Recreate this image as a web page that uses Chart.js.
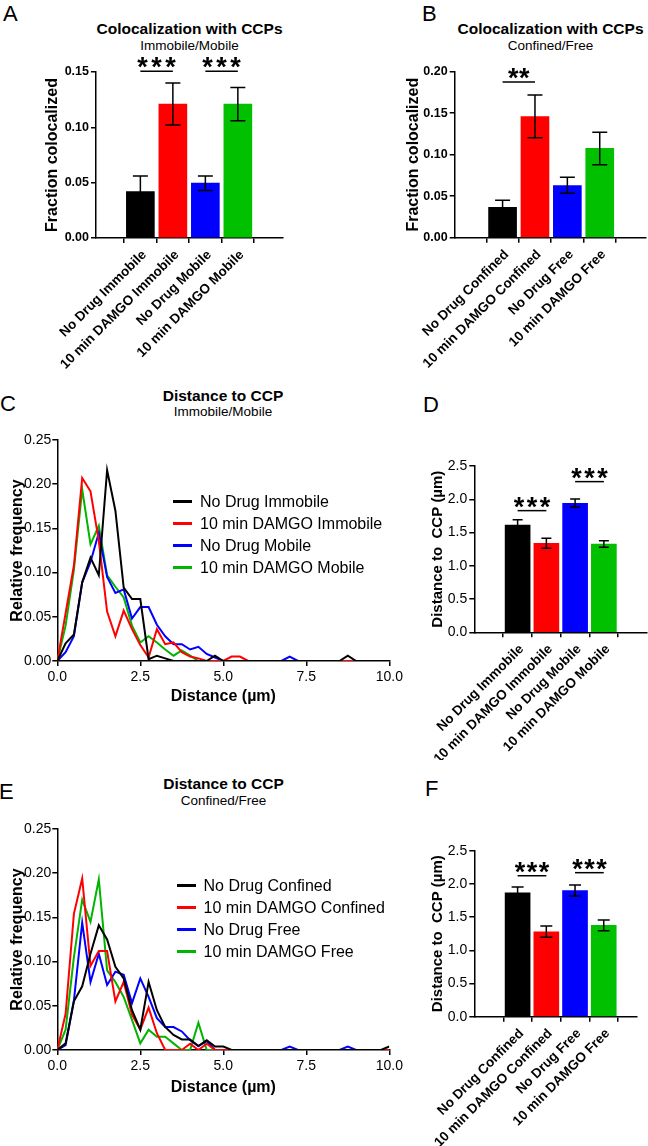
<!DOCTYPE html>
<html>
<head>
<meta charset="utf-8">
<script src="https://cdn.jsdelivr.net/npm/chart.js@4.4.1/dist/chart.umd.min.js"></script>
<style>
  body { margin: 0; background: #fff; width: 648px; height: 1146px; position: relative; overflow: hidden;
         font-family: Arial, "Liberation Sans", Helvetica, sans-serif; color: #000; }
  canvas { position: absolute; }
  .letter { position: absolute; font-size: 22px; line-height: 22px; }
  .ttl { position: absolute; transform: translate(-50%, -50%); white-space: nowrap; font-weight: bold; font-size: 15.5px; line-height: 15.5px; }
  .sub { position: absolute; transform: translate(-50%, -50%); white-space: nowrap; font-size: 13.5px; line-height: 13.5px; }
  .legend { position: absolute; }
  .legend div { position: absolute; left: 0; height: 22px; display: flex; align-items: center; white-space: nowrap; font-size: 16px; }
  .legend span.swatch { display: inline-block; width: 19px; height: 3px; margin-right: 8px; }
</style>
</head>
<body>
<div class="letter" style="left:3px;top:3px">A</div>
<div class="letter" style="left:422px;top:3px">B</div>
<div class="letter" style="left:0px;top:393px">C</div>
<div class="letter" style="left:423px;top:394px">D</div>
<div class="letter" style="left:-1px;top:781px">E</div>
<div class="letter" style="left:425px;top:778px">F</div>

<div class="ttl" style="left:189.5px;top:29px">Colocalization with CCPs</div>
<div class="sub" style="left:189.5px;top:45.5px">Immobile/Mobile</div>
<div class="ttl" style="left:550.5px;top:29px">Colocalization with CCPs</div>
<div class="sub" style="left:550.5px;top:45.5px">Confined/Free</div>
<div class="ttl" style="left:223px;top:396px">Distance to CCP</div>
<div class="sub" style="left:223px;top:412px">Immobile/Mobile</div>
<div class="ttl" style="left:223.5px;top:784px">Distance to CCP</div>
<div class="sub" style="left:223.5px;top:801px">Confined/Free</div>

<canvas id="chartA" width="324" height="372" style="left:0px;top:0px"></canvas>
<canvas id="chartB" width="324" height="372" style="left:324px;top:0px"></canvas>
<canvas id="chartC" width="420" height="370" style="left:0px;top:370px"></canvas>
<canvas id="chartD" width="268" height="390" style="left:380px;top:370px"></canvas>
<canvas id="chartE" width="420" height="406" style="left:0px;top:740px"></canvas>
<canvas id="chartF" width="268" height="406" style="left:380px;top:740px"></canvas>

<div class="legend" id="legendC" style="left:173px;top:490.5px"></div>
<div class="legend" id="legendE" style="left:176.5px;top:874.5px"></div>

<script>
const barColors = ['#000000', '#ff0000', '#0000ff', '#00c000'];
const lineColors = ['#000000', '#ff0000', '#0000ff', '#00b400'];

const immobileMobileLabels = ['No Drug Immobile', '10 min DAMGO Immobile', 'No Drug Mobile', '10 min DAMGO Mobile'];
const confinedFreeLabels = ['No Drug Confined', '10 min DAMGO Confined', 'No Drug Free', '10 min DAMGO Free'];

// A: colocalization, immobile/mobile
const colocImmMean = [0.042, 0.121, 0.0497, 0.121];
const colocImmLow = [0.028, 0.102, 0.043, 0.106];
const colocImmHigh = [0.056, 0.140, 0.056, 0.136];

// B: colocalization, confined/free
const colocConfMean = [0.0366, 0.1458, 0.0627, 0.1077];
const colocConfLow = [0.028, 0.1205, 0.0535, 0.088];
const colocConfHigh = [0.045, 0.172, 0.0727, 0.127];

// D: distance to CCP, immobile/mobile
const distImmMean = [1.613, 1.338, 1.939, 1.328];
const distImmLow = [1.533, 1.263, 1.884, 1.278];
const distImmHigh = [1.693, 1.413, 2.004, 1.378];

// F: distance to CCP, confined/free
const distConfMean = [1.867, 1.280, 1.898, 1.376];
const distConfLow = [1.782, 1.195, 1.817, 1.295];
const distConfHigh = [1.953, 1.365, 1.983, 1.456];

// histogram bins (um)
const distanceBins = [0, 0.25, 0.5, 0.75, 1.0, 1.25, 1.5, 1.75, 2.0, 2.25, 2.5, 2.75, 3.0, 3.25, 3.5, 3.75,
  4.0, 4.25, 4.5, 4.75, 5.0, 5.25, 5.5, 5.75, 6.0, 6.25, 6.5, 6.75, 7.0, 7.25, 7.5, 7.75,
  8.0, 8.25, 8.5, 8.75, 9.0, 9.25, 9.5, 9.75, 10.0];

// C: relative frequency, immobile/mobile
const freqNoDrugImmobile = [0, 0.02, 0.03, 0.089, 0.117, 0.097, 0.216, 0.170, 0.083, 0.070, 0.070, 0.002, 0.006, 0.003, 0, 0,
  0, 0, 0, 0.006, 0, 0, 0, 0, 0, 0, 0, 0, 0, 0, 0, 0,
  0, 0, 0, 0.006, 0, 0, 0, 0, 0];
const freqDamgoImmobile = [0, 0.054, 0.108, 0.207, 0.192, 0.136, 0.056, 0.028, 0.057, 0.036, 0.018, 0.004, 0.036, 0.019, 0.021, 0.01,
  0.005, 0.003, 0, 0, 0, 0.005, 0.005, 0, 0, 0, 0, 0, 0, 0, 0, 0,
  0, 0, 0, 0, 0, 0, 0, 0, 0];
const freqNoDrugMobile = [0, 0.01, 0.028, 0.089, 0.112, 0.145, 0.095, 0.077, 0.081, 0.048, 0.061, 0.061, 0.041, 0.028, 0.019, 0.019,
  0.013, 0.016, 0.008, 0.004, 0, 0, 0, 0, 0, 0, 0, 0, 0.005, 0, 0, 0,
  0, 0, 0, 0, 0, 0, 0, 0, 0];
const freqDamgoMobile = [0, 0.04, 0.103, 0.194, 0.132, 0.153, 0.097, 0.084, 0.072, 0.040, 0.021, 0.028, 0.021, 0.013, 0.006, 0.012,
  0.006, 0, 0, 0, 0, 0, 0, 0, 0, 0, 0, 0, 0, 0, 0, 0,
  0, 0, 0, 0, 0, 0, 0, 0, 0];

// E: relative frequency, confined/free
const freqNoDrugConfined = [0, 0.0075, 0.055, 0.072, 0.109, 0.141, 0.125, 0.094, 0.081, 0.045, 0.023, 0.077, 0.045, 0.026, 0.017, 0.012,
  0.012, 0.0045, 0.011, 0.004, 0.004, 0, 0, 0, 0, 0, 0, 0, 0, 0, 0, 0,
  0, 0, 0, 0, 0, 0, 0, 0, 0.004];
const freqDamgoConfined = [0, 0.041, 0.154, 0.194, 0.095, 0.112, 0.112, 0.055, 0.077, 0.040, 0.023, 0.048, 0.019, 0, 0, 0,
  0.007, 0, 0.007, 0, 0, 0, 0, 0, 0, 0, 0, 0, 0, 0, 0, 0,
  0, 0, 0, 0, 0, 0, 0, 0, 0];
const freqNoDrugFree = [0, 0.0056, 0.056, 0.144, 0.077, 0.109, 0.0735, 0.0886, 0.085, 0.053, 0.081, 0.060, 0.036, 0.026, 0.026, 0.021,
  0.011, 0.0045, 0.010, 0, 0, 0, 0, 0, 0, 0, 0, 0, 0.004, 0, 0, 0,
  0, 0, 0, 0.004, 0, 0, 0, 0, 0];
const freqDamgoFree = [0, 0.023, 0.105, 0.170, 0.145, 0.193, 0.090, 0.077, 0.060, 0.034, 0.0075, 0.023, 0.015, 0.015, 0.0075, 0,
  0, 0.031, 0, 0, 0, 0, 0, 0, 0, 0, 0, 0, 0, 0, 0, 0,
  0, 0, 0, 0, 0, 0, 0, 0, 0];

const FONT = 'Arial, "Liberation Sans", Helvetica, sans-serif';
Chart.defaults.font.family = FONT;
Chart.defaults.color = '#000';

const gridStyle = { drawOnChartArea: false, color: '#000', lineWidth: 1.5, tickLength: 5 };
const borderStyle = { color: '#000', width: 1.5 };

function errorBars(lows, highs, cap) {
  return {
    id: 'errorBars',
    afterDatasetsDraw(chart) {
      const { ctx } = chart;
      const { x, y } = chart.scales;
      ctx.save();
      ctx.strokeStyle = '#000';
      ctx.lineWidth = 1.5;
      lows.forEach((low, i) => {
        const px = x.getPixelForValue(i);
        const top = y.getPixelForValue(highs[i]);
        const bottom = y.getPixelForValue(low);
        ctx.beginPath();
        ctx.moveTo(px, top);
        ctx.lineTo(px, bottom);
        ctx.moveTo(px - cap / 2, top);
        ctx.lineTo(px + cap / 2, top);
        ctx.moveTo(px - cap / 2, bottom);
        ctx.lineTo(px + cap / 2, bottom);
        ctx.stroke();
      });
      ctx.restore();
    },
  };
}

function sigBrackets(pairs, levels, marks, starGap) {
  return {
    id: 'sigBrackets',
    afterDraw(chart) {
      const { ctx } = chart;
      const { x, y } = chart.scales;
      ctx.save();
      ctx.strokeStyle = '#000';
      ctx.fillStyle = '#000';
      ctx.lineWidth = 1.5;
      ctx.font = 'bold 27px ' + FONT;
      ctx.textAlign = 'center';
      ctx.textBaseline = 'alphabetic';
      pairs.forEach((pair, k) => {
        const x1 = x.getPixelForValue(pair[0]);
        const x2 = x.getPixelForValue(pair[1]);
        const py = y.getPixelForValue(levels[k]);
        ctx.beginPath();
        ctx.moveTo(x1, py);
        ctx.lineTo(x2, py);
        ctx.stroke();
        const n = marks[k].length;
        const mid = (x1 + x2) / 2;
        for (let s = 0; s < n; s++) {
          ctx.fillText('*', mid + (s - (n - 1) / 2) * starGap, py + 5);
        }
      });
      ctx.restore();
    },
  };
}

function makeBarChart(id, o) {
  return new Chart(document.getElementById(id), {
    type: 'bar',
    data: {
      datasets: [{
        data: o.means.map((v, i) => ({ x: i, y: v })),
        backgroundColor: barColors,
        borderWidth: 0,
        barThickness: o.barWidth,
      }],
    },
    options: {
      responsive: false,
      animation: false,
      devicePixelRatio: 1,
      layout: { padding: o.padding },
      plugins: { legend: { display: false }, tooltip: { enabled: false } },
      scales: {
        x: {
          type: 'linear',
          min: o.xMin,
          max: o.xMax,
          afterBuildTicks: (scale) => { scale.ticks = o.labels.map((_, i) => ({ value: i })); },
          afterFit: (scale) => { scale.height = o.xHeight; },
          ticks: {
            autoSkip: false,
            minRotation: 45,
            maxRotation: 45,
            padding: 4,
            labelOffset: 4,
            font: { size: 13.5, weight: 'bold' },
            callback: (v) => o.labels[v],
          },
          grid: gridStyle,
          border: borderStyle,
        },
        y: {
          min: 0,
          max: o.yMax,
          afterFit: (scale) => { scale.width = o.yWidth; },
          ticks: {
            stepSize: o.yStep,
            padding: 2,
            font: o.tickFont,
            callback: (v) => v.toFixed(o.digits),
          },
          title: {
            display: true,
            text: o.yTitle,
            font: { size: o.yTitleSize, weight: 'bold' },
            padding: { top: o.yTitlePad, bottom: 0 },
          },
          grid: gridStyle,
          border: borderStyle,
        },
      },
    },
    plugins: [errorBars(o.lows, o.highs, o.cap), sigBrackets(o.sigPairs, o.sigLevels, o.sigMarks, o.starGap)],
  });
}

function makeLineChart(id, o) {
  return new Chart(document.getElementById(id), {
    type: 'line',
    data: {
      datasets: o.series.map((s, k) => ({
        label: o.names[k],
        data: distanceBins.map((d, i) => ({ x: d, y: s[i] })),
        borderColor: lineColors[k],
        borderWidth: 2,
        pointRadius: 0,
        tension: 0,
        fill: false,
      })),
    },
    options: {
      responsive: false,
      animation: false,
      devicePixelRatio: 1,
      layout: { padding: o.padding },
      plugins: { legend: { display: false }, tooltip: { enabled: false } },
      scales: {
        x: {
          type: 'linear',
          min: 0,
          max: 10,
          afterFit: (scale) => { scale.height = o.xHeight; },
          ticks: { stepSize: 2.5, padding: 3, font: { size: 14 }, callback: (v) => v.toFixed(1) },
          title: {
            display: true,
            text: 'Distance (\u00b5m)',
            font: { size: 16, weight: 'bold' },
            padding: { top: 0, bottom: o.xTitlePad },
          },
          grid: gridStyle,
          border: borderStyle,
        },
        y: {
          min: 0,
          max: 0.25,
          afterFit: (scale) => { scale.width = 57.3; },
          ticks: { stepSize: 0.05, padding: 1, font: { size: 14 }, callback: (v) => v.toFixed(2) },
          title: {
            display: true,
            text: 'Relative frequency',
            font: { size: 16, weight: 'bold' },
            padding: { top: 8.4, bottom: 0 },
          },
          grid: gridStyle,
          border: borderStyle,
        },
      },
    },
  });
}

function buildLegend(id, names, rowGap) {
  const box = document.getElementById(id);
  names.forEach((name, k) => {
    const row = document.createElement('div');
    row.style.top = (k * rowGap) + 'px';
    const sw = document.createElement('span');
    sw.className = 'swatch';
    sw.style.background = lineColors[k];
    const txt = document.createElement('span');
    txt.textContent = name;
    row.append(sw, txt);
    box.appendChild(row);
  });
}

makeBarChart('chartA', {
  labels: immobileMobileLabels, means: colocImmMean, lows: colocImmLow, highs: colocImmHigh,
  barWidth: 28, cap: 15, xMin: -0.646, xMax: 3.67, xHeight: 134, yWidth: 96,
  padding: { left: 0, right: 41, top: 72, bottom: 0 },
  yMax: 0.15, yStep: 0.05, digits: 2, tickFont: { size: 12.5, weight: 'bold' },
  yTitle: 'Fraction colocalized', yTitleSize: 16, yTitlePad: 43.4,
  sigPairs: [[0, 1], [2, 3]], sigLevels: [0.1506, 0.1506], sigMarks: ['***', '***'], starGap: 14,
});

makeBarChart('chartB', {
  labels: confinedFreeLabels, means: colocConfMean, lows: colocConfLow, highs: colocConfHigh,
  barWidth: 28, cap: 15, xMin: -0.74, xMax: 3.69, xHeight: 134.3, yWidth: 130.7,
  padding: { left: 0, right: 2, top: 71.7, bottom: 0 },
  yMax: 0.20, yStep: 0.05, digits: 2, tickFont: { size: 12.5, weight: 'bold' },
  yTitle: 'Fraction colocalized', yTitleSize: 16, yTitlePad: 80.4,
  sigPairs: [[0, 1]], sigLevels: [0.1876], sigMarks: ['**'], starGap: 11,
});

makeBarChart('chartD', {
  labels: immobileMobileLabels, means: distImmMean, lows: distImmLow, highs: distImmHigh,
  barWidth: 25, cap: 10, xMin: -0.757, xMax: 3.74, xHeight: 127.7, yWidth: 94.3,
  padding: { left: 0, right: 1.3, top: 96, bottom: 0 },
  yMax: 2.5, yStep: 0.5, digits: 1, tickFont: { size: 14 },
  yTitle: 'Distance to  CCP (\u00b5m)', yTitleSize: 15, yTitlePad: 49,
  sigPairs: [[0, 1], [2, 3]], sigLevels: [1.829, 2.265], sigMarks: ['***', '***'], starGap: 13,
});

makeBarChart('chartF', {
  labels: confinedFreeLabels, means: distConfMean, lows: distConfLow, highs: distConfHigh,
  barWidth: 25, cap: 12, xMin: -0.80, xMax: 3.45, xHeight: 129.3, yWidth: 94.3,
  padding: { left: 0, right: 11, top: 110.7, bottom: 0 },
  yMax: 2.5, yStep: 0.5, digits: 1, tickFont: { size: 14 },
  yTitle: 'Distance to  CCP (\u00b5m)', yTitleSize: 15, yTitlePad: 49,
  sigPairs: [[0, 1], [2, 3]], sigLevels: [2.123, 2.169], sigMarks: ['***', '***'], starGap: 12,
});

makeLineChart('chartC', {
  names: immobileMobileLabels,
  series: [freqNoDrugImmobile, freqDamgoImmobile, freqNoDrugMobile, freqDamgoMobile],
  padding: { left: 0, right: 30.7, top: 70, bottom: 0 },
  xHeight: 79, xTitlePad: 33.4,
});

makeLineChart('chartE', {
  names: confinedFreeLabels,
  series: [freqNoDrugConfined, freqDamgoConfined, freqNoDrugFree, freqDamgoFree],
  padding: { left: 0, right: 30.7, top: 89, bottom: 0 },
  xHeight: 96, xTitlePad: 48.7,
});

buildLegend('legendC', immobileMobileLabels, 22);
buildLegend('legendE', confinedFreeLabels, 22);
</script>
</body>
</html>
